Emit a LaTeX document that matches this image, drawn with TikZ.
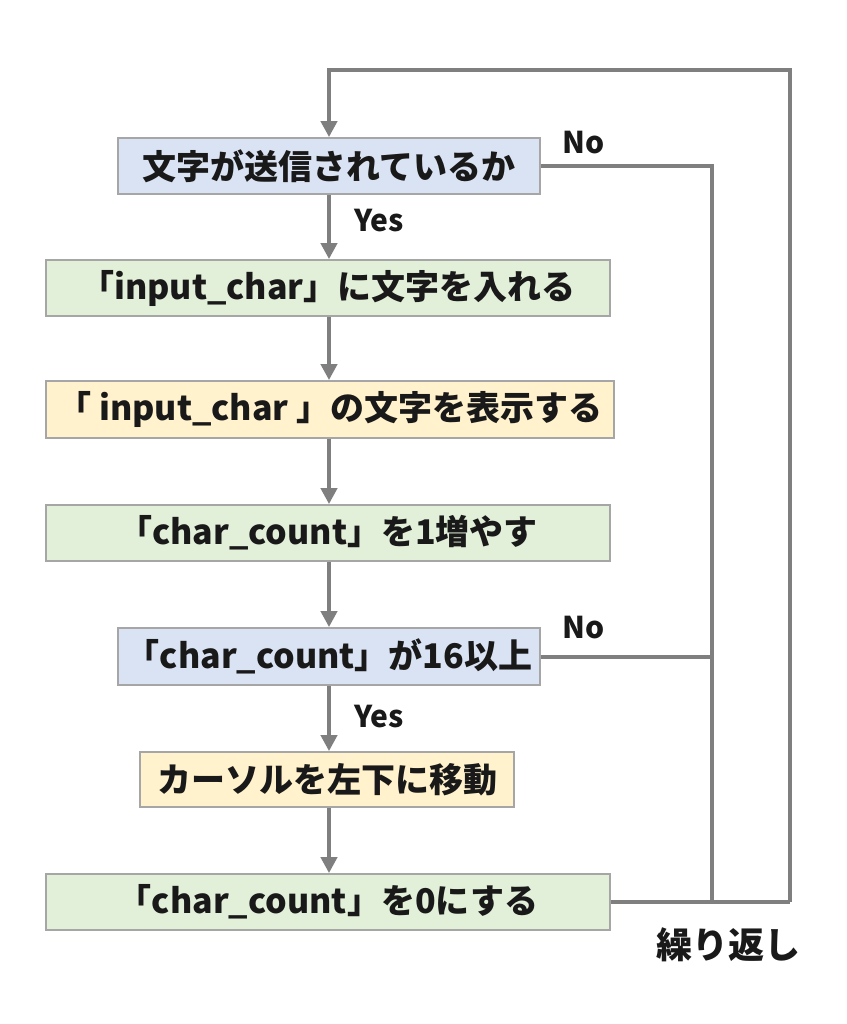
\documentclass[tikz,border=0pt]{standalone}
\usepackage{fontspec}
\newfontfamily\jp{Noto Sans CJK JP}
\usetikzlibrary{arrows.meta}
\definecolor{bxblue}{HTML}{DAE3F3}
\definecolor{bxgreen}{HTML}{E2F0D9}
\definecolor{bxorange}{HTML}{FFF2CC}
\definecolor{bxborder}{HTML}{A6A6A6}
\definecolor{ln}{HTML}{7F7F7F}
\begin{document}
\begin{tikzpicture}[x=1pt,y=-1pt,
  box/.style={draw=bxborder,line width=1.8pt,inner sep=0pt,font=\jp\bfseries\fontsize{34}{34}\selectfont,text=black!90},
  conn/.style={draw=ln,line width=4pt},
  arr/.style={conn,-{Triangle[length=16pt,width=16pt]}},
  lbl/.style={font=\jp\bfseries\fontsize{30}{30}\selectfont,text=black!90}]
\useasboundingbox[fill=white] (0,0) rectangle (846,1024);
\node[box,fill=bxblue,minimum width=422pt,minimum height=56pt] (b1) at (329,166) {文字が送信されているか};
\node[box,fill=bxgreen,minimum width=564pt,minimum height=56pt] (b2) at (328,288) {「input\_char」に文字を入れる};
\node[box,fill=bxorange,minimum width=568pt,minimum height=57pt] (b3) at (330,409.5) {「 input\_char 」の文字を表示する};
\node[box,fill=bxgreen,minimum width=564pt,minimum height=56pt] (b4) at (328,533) {「char\_count」を1増やす};
\node[box,fill=bxblue,minimum width=422pt,minimum height=57pt] (b5) at (329,656.5) {「char\_count」が16以上};
\node[box,fill=bxorange,minimum width=374pt,minimum height=55pt] (b6) at (327,779.5) {カーソルを左下に移動};
\node[box,fill=bxgreen,minimum width=564pt,minimum height=56pt] (b7) at (328,902) {「char\_count」を0にする};
\coordinate (tl) at (329,70);
\coordinate (tr) at (790,70);
\coordinate (br) at (790,902);
\coordinate (mt) at (712,166);
\coordinate (mm) at (712,656.5);
\coordinate (mb) at (712,902);
% main vertical arrows
\draw[arr] (b1.south -| tl) -- (b2.north -| tl);
\draw[arr] (b2.south -| tl) -- (b3.north -| tl);
\draw[arr] (b3.south -| tl) -- (b4.north -| tl);
\draw[arr] (b4.south -| tl) -- (b5.north -| tl);
\draw[arr] (b5.south -| tl) -- (b6.north -| tl);
\draw[arr] (b6.south -| tl) -- (b7.north -| tl);
% loops
\draw[conn] (b7.east) -- (br);
\draw[conn] (b1.east) -- (mt) -- (mb);
\draw[conn] (b5.east) -- (mm);
\draw[arr,line join=miter] (br) -- (tr) -- (tl) -- (b1.north -| tl);
% labels
\node[lbl] (no1) at (584,143) {No};
\node[lbl] (yes1) at (379,221) {Yes};
\node[lbl] (no2) at (584,628) {No};
\node[lbl] (yes2) at (379,717) {Yes};
\node[font=\jp\bfseries\fontsize{36}{36}\selectfont,text=black!90] (rep) at (728,945) {繰り返し};
\end{tikzpicture}
\end{document}
